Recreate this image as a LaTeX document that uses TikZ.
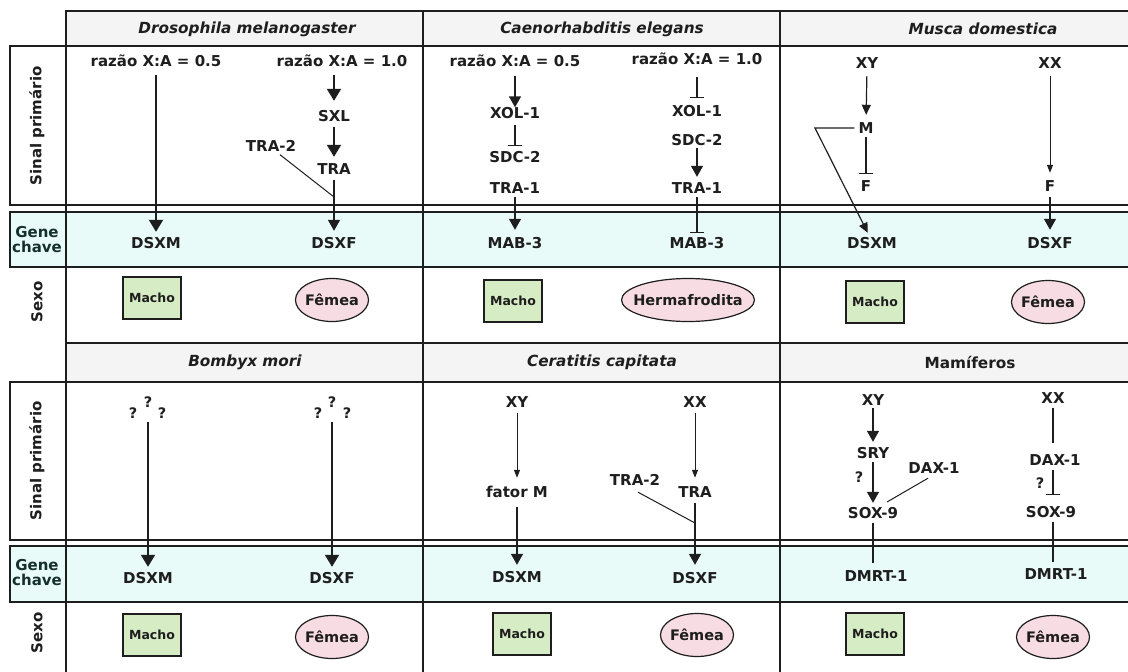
\documentclass[tikz,border=0pt]{standalone}
\usepackage{fontspec}
\setmainfont{DejaVu Sans}
\usetikzlibrary{arrows.meta,shapes.geometric}
\definecolor{ink}{HTML}{1E1E1E}
\definecolor{hdrfill}{HTML}{F4F4F4}
\definecolor{genefill}{HTML}{E8FBF8}
\definecolor{machofill}{HTML}{D6ECC4}
\definecolor{femeafill}{HTML}{F8DCE3}
\definecolor{genetext}{HTML}{15302C}
\tikzset{
 lbl/.style={font=\fontsize{15}{15}\selectfont\bfseries, text=ink, inner sep=0pt, text height=11pt, text depth=0pt},
 hdr/.style={font=\fontsize{15.3}{15}\selectfont\bfseries\itshape, text=ink, inner sep=0pt},
 hdrup/.style={font=\fontsize{15.3}{15}\selectfont\bfseries, text=ink, inner sep=0pt},
 qm/.style={font=\fontsize{14.5}{14.5}\selectfont\bfseries, text=ink, inner sep=0pt, text height=10.5pt, text depth=0pt},
 rowlbl/.style={font=\fontsize{15}{15}\selectfont\bfseries, text=ink, inner sep=0pt, rotate=90},
 genelbl/.style={font=\fontsize{15}{15}\selectfont\bfseries, text=genetext, inner sep=0pt, align=center},
 machobox/.style={draw=ink, line width=1.3pt, fill=machofill, minimum width=58pt, minimum height=42pt, inner sep=0pt, font=\fontsize{12.5}{12.5}\selectfont\bfseries, text=ink},
 femeaell/.style={ellipse, draw=ink, line width=1.2pt, fill=femeafill, minimum width=73pt, minimum height=43pt, inner ysep=0pt, inner xsep=-3pt, font=\fontsize{14.5}{14.5}\selectfont\bfseries, text=ink},
 gridline/.style={draw=ink, line width=1.8pt},
 tarr/.style={draw=ink, line width=2pt, -{Triangle[length=12pt,width=14pt]}},
 arr/.style={draw=ink, line width=1.4pt, -{Triangle[length=11pt,width=12pt]}},
 marr/.style={draw=ink, line width=1.2pt, -{Triangle[length=10pt,width=9pt]}},
 sarr/.style={draw=ink, line width=1pt, -{Triangle[length=8pt,width=6pt]}},
 inh/.style={draw=ink, line width=1.2pt, -{Bar[width=14pt,line width=1.2pt]}},
 pline/.style={draw=ink, line width=1.2pt},
 thinl/.style={draw=ink, line width=1pt},
}
\begin{document}
\begin{tikzpicture}[x=1pt,y=-1pt]
\useasboundingbox (0,0) rectangle (1128,672);
\fill[white] (0,0) rectangle (1128,672);
% ---------- grid ----------
\draw[gridline, fill=hdrfill] (66,11) rectangle (1140,46);
\draw[gridline] (10,46) rectangle (1140,205);
\draw[gridline, fill=genefill] (10,212) rectangle (1140,267);
\draw[gridline, fill=hdrfill] (66,343) rectangle (1140,382);
\draw[gridline] (10,382) rectangle (1140,540);
\draw[gridline, fill=genefill] (10,546) rectangle (1140,602);
\draw[gridline] (66,11) -- (66,680);
\draw[gridline] (423,11) -- (423,680);
\draw[gridline] (780,11) -- (780,680);
% ---------- row labels ----------
\node[rowlbl] (ls1) at (37,126) {Sinal primário};
\node[genelbl] (lg1) at (37,240) {Gene\\chave};
\node[rowlbl] (lx1) at (37,302) {Sexo};
\node[rowlbl] (ls2) at (37,461) {Sinal primário};
\node[genelbl] (lg2) at (37,573) {Gene\\chave};
\node[rowlbl] (lx2) at (37,633) {Sexo};
% ---------- headers ----------
\node[hdr] (h1) at (247,29) {Drosophila melanogaster};
\node[hdr] (h2) at (602,29) {Caenorhabditis elegans};
\node[hdr] (h3) at (983,29) {Musca domestica};
\node[hdr] (h4) at (245,362) {Bombyx mori};
\node[hdr] (h5) at (602,362) {Ceratitis capitata};
\node[hdrup] (h6) at (970,362) {Mamíferos};
% ---------- Drosophila ----------
\node[lbl] (dr05) at (156,61) {razão X:A = 0.5};
\node[lbl] (dr10) at (342,61) {razão X:A = 1.0};
\node[lbl] (dsxl) at (334,116) {SXL};
\node[lbl] (dtrb) at (271,146) {TRA-2};
\node[lbl] (dtra) at (334,169) {TRA};
\node[lbl] (ddsxm) at (156,243) {DSXM};
\node[lbl] (ddsxf) at (334,243) {DSXF};
\node[machobox] (dmacho) at (152,298) {Macho};
\node[femeaell] (dfemea) at (332,300) {Fêmea};
\coordinate (dj) at (334,197);
\draw[tarr, shorten <=8.5pt, shorten >=5.5pt] (dr05.south) -- (ddsxm.north);
\draw[tarr, shorten <=8.5pt, shorten >=9.5pt] (dsxl.north |- dr10.south) -- (dsxl.north);
\draw[tarr, shorten <=5.5pt, shorten >=6.5pt] (dsxl.south) -- (dtra.north);
\draw[arr, shorten <=5.5pt, shorten >=6.5pt] (dtra.south) -- (ddsxf.north);
\draw[thinl] ([xshift=9pt,yshift=-3pt]dtrb.south) -- (dj);
% ---------- C. elegans ----------
\node[lbl] (cr05) at (515,61) {razão X:A = 0.5};
\node[lbl] (cr10) at (697,59) {razão X:A = 1.0};
\node[lbl] (cxol) at (515,113) {XOL-1};
\node[lbl] (csdc) at (515,157) {SDC-2};
\node[lbl] (ctra) at (515,188) {TRA-1};
\node[lbl] (cmab) at (515,243) {MAB-3};
\node[lbl] (cxolb) at (697,111) {XOL-1};
\node[lbl] (csdcb) at (697,140) {SDC-2};
\node[lbl] (ctrab) at (697,188) {TRA-1};
\node[lbl] (cmabb) at (697,243) {MAB-3};
\node[machobox] (cmacho) at (513,301) {Macho};
\node[femeaell, minimum width=133pt, inner xsep=-12pt] (cherm) at (688,300) {Hermafrodita};
\draw[arr, shorten <=9.5pt] (cr05.south) -- (cxol.north);
\draw[inh, shorten <=6.5pt, shorten >=5.5pt] (cxol.south) -- (csdc.north);
\draw[arr, shorten <=3.5pt, shorten >=7.5pt] (ctra.south) -- (cmab.north);
\draw[inh, shorten <=12.5pt, shorten >=7.5pt] (cr10.south) -- (cxolb.north);
\draw[arr, shorten <=2.5pt, shorten >=5.5pt] (csdcb.south) -- (ctrab.north);
\draw[inh, shorten <=3.5pt, shorten >=4.5pt] (ctrab.south) -- (cmabb.north);
% ---------- Musca ----------
\node[lbl] (mxy) at (867,63) {XY};
\node[lbl] (mm) at (866,128) {M};
\node[lbl] (mf) at (866,186) {F};
\node[lbl] (mdsxm) at (872,243) {DSXM};
\node[lbl] (mxx) at (1050,63) {XX};
\node[lbl] (mfb) at (1050,186) {F};
\node[lbl] (mdsxf) at (1050,243) {DSXF};
\node[machobox] (mmacho) at (875,302) {Macho};
\node[femeaell] (mfemea) at (1048,302) {Fêmea};
\coordinate (mc) at (815,128);
\draw[marr, shorten <=7.5pt, shorten >=7.5pt] (mxy.south) -- (mm.north);
\draw[inh, shorten <=3.5pt, shorten >=6.5pt] (mm.south) -- (mf.north);
\draw[marr, shorten >=5pt] ([xshift=-4pt]mm.west) -- (mc) -- ([xshift=-2pt]mdsxm.north);
\draw[sarr, shorten <=7.5pt, shorten >=7.5pt] (mxx.south) -- (mfb.north);
\draw[arr, shorten <=5.5pt, shorten >=7.5pt] (mfb.south) -- (mdsxf.north);
% ---------- Bombyx ----------
\node[qm] (bq1) at (133,413) {?};
\node[qm] (bq2) at (148,402) {?};
\node[qm] (bq3) at (162,413) {?};
\node[qm] (bq4) at (318,413) {?};
\node[qm] (bq5) at (332,402) {?};
\node[qm] (bq6) at (347,413) {?};
\node[lbl] (bdsxm) at (148,578) {DSXM};
\node[lbl] (bdsxf) at (332,578) {DSXF};
\node[machobox] (bmacho) at (152,635) {Macho};
\node[femeaell] (bfemea) at (332,637) {Fêmea};
\draw[tarr, shorten <=14.5pt, shorten >=5.5pt] (bq2.south) -- (bdsxm.north);
\draw[tarr, shorten <=14.5pt, shorten >=5.5pt] (bq5.south) -- (bdsxf.north);
% ---------- Ceratitis ----------
\node[lbl] (kxy) at (517,402) {XY};
\node[lbl] (kfm) at (517,492) {fator M};
\node[lbl] (kdsxm) at (517,577) {DSXM};
\node[lbl] (kxx) at (695,402) {XX};
\node[lbl] (ktra) at (695,492) {TRA};
\node[lbl] (ktrb) at (635,480) {TRA-2};
\node[lbl] (kdsxf) at (695,578) {DSXF};
\node[machobox] (kmacho) at (522,634) {Macho};
\node[femeaell] (kfemea) at (697,635) {Fêmea};
\coordinate (kj) at (695,523);
\draw[sarr, shorten <=5.5pt, shorten >=8.5pt] (kxy.south) -- (kfm.north);
\draw[arr, shorten <=9.5pt, shorten >=6.5pt] (kfm.south) -- (kdsxm.north);
\draw[sarr, shorten <=5.5pt, shorten >=8.5pt] (kxx.south) -- (ktra.north);
\draw[arr, shorten <=5.5pt, shorten >=7.5pt] (ktra.south) -- (kdsxf.north);
\draw[thinl] ([xshift=3pt,yshift=-6.5pt]ktrb.south) -- (kj);
% ---------- Mamiferos ----------
\node[lbl] (axy) at (873,400) {XY};
\node[lbl] (asry) at (873,453) {SRY};
\node[qm] (aq) at (859,477) {?};
\node[lbl] (adax) at (934,468) {DAX-1};
\node[lbl] (asox) at (873,513) {SOX-9};
\node[lbl] (admrt) at (876,576) {DMRT-1};
\node[lbl] (axx) at (1053,398) {XX};
\node[lbl] (adaxb) at (1055,460) {DAX-1};
\node[qm] (aqb) at (1040,483) {?};
\node[lbl] (asoxb) at (1051,512) {SOX-9};
\node[lbl] (admrtb) at (1056,574) {DMRT-1};
\node[machobox] (amacho) at (875,634) {Macho};
\node[femeaell] (afemea) at (1053,637) {Fêmea};
\coordinate (aj) at (887,502);
\draw[arr, shorten <=2.5pt, shorten >=5.5pt] (axy.south) -- (asry.north);
\draw[arr, shorten <=3.5pt, shorten >=4.5pt] (asry.south) -- (asox.north);
\draw[thinl] ([xshift=-6pt,yshift=-4.5pt]adax.south) -- (aj);
\draw[pline, shorten <=4.5pt, shorten >=7.5pt] (asox.south) -- (asox.south |- admrt.north);
\draw[pline, shorten <=4.5pt, shorten >=11.5pt] (axx.south) -- (axx.south |- adaxb.north);
\draw[inh, shorten <=4.5pt, shorten >=11.5pt] (adaxb.south -| axx.south) -- (axx.south |- asoxb.north);
\draw[pline, shorten <=4.5pt, shorten >=6.5pt] (asoxb.south -| axx.south) -- (axx.south |- admrtb.north);
\end{tikzpicture}
\end{document}
